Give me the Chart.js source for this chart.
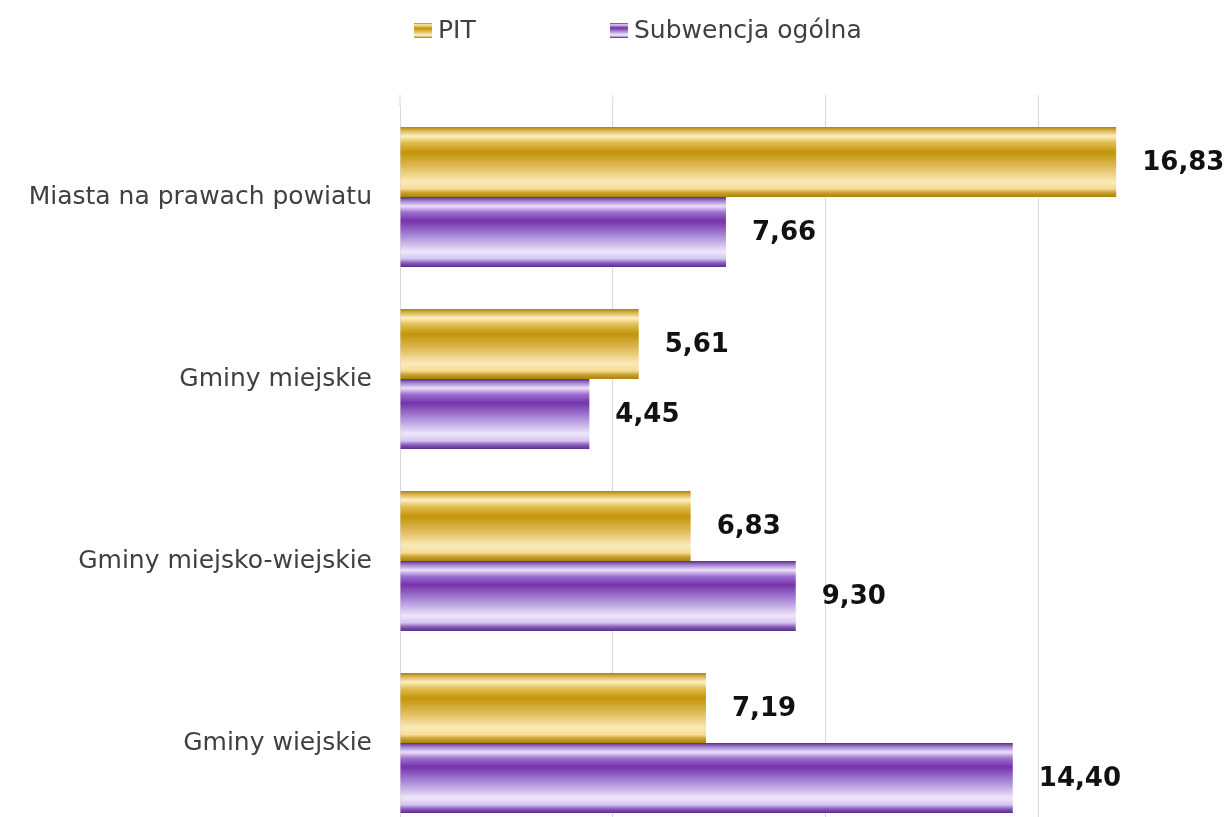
<!DOCTYPE html>
<html><head><meta charset="utf-8">
<script src="https://cdn.jsdelivr.net/npm/chart.js@4/dist/chart.umd.min.js"></script>
<style>html,body{margin:0;padding:0;background:#fff;overflow:hidden;height:817px}#wrap{width:1226px;height:840px;position:relative}</style>
</head><body><div id="wrap"><canvas id="c"></canvas></div>
<script>
const categories = ['Miasta na prawach powiatu', 'Gminy miejskie', 'Gminy miejsko-wiejskie', 'Gminy wiejskie'];
const seriesNames = ['PIT', 'Subwencja ogólna'];
const pitValues = [16.83, 5.61, 6.83, 7.19];
const subwencjaValues = [7.66, 4.45, 9.30, 14.40];
const gridValues = [0, 5, 10, 15];

const CAT_PCT = 0.77;
const goldStops = [[0,'#a8820c'],[0.05,'#d8b24a'],[0.13,'#fdf0c4'],[0.22,'#e2bf55'],[0.36,'#c39408'],[0.55,'#dcb752'],[0.78,'#fbe9b6'],[0.88,'#f6dc98'],[0.94,'#c9a02c'],[1,'#a8820c']];
const purpleStops = [[0,'#5a2a8c'],[0.05,'#9d7bc8'],[0.13,'#ece0fb'],[0.22,'#9c6fd0'],[0.34,'#7433aa'],[0.55,'#a888d6'],[0.78,'#eee6fb'],[0.88,'#d6c6f0'],[0.94,'#8a5cc0'],[1,'#5a2a8c']];

function makeGrad(c, top, h, stops){
  const g = c.createLinearGradient(0, top, 0, top + h);
  stops.forEach(s => g.addColorStop(s[0], s[1]));
  return g;
}
function barGradient(ctx, stops){
  const chart = ctx.chart;
  const y = chart.scales && chart.scales.y;
  if (ctx.type !== 'data' || !y || !isFinite(y.top) || !isFinite(y.bottom) || y.bottom <= y.top) return stops[4][1];
  const center = y.getPixelForValue(ctx.dataIndex);
  const catH = (y.bottom - y.top) / categories.length;
  const bw = catH * CAT_PCT / 2;
  const top = ctx.datasetIndex === 0 ? center - bw : center;
  return makeGrad(chart.ctx, top, bw, stops);
}

const valueLabels = {
  id: 'valueLabels',
  afterDatasetsDraw(chart){
    const c = chart.ctx;
    c.save();
    c.font = 'bold 26px "DejaVu Sans"';
    c.fillStyle = '#111111';
    c.textAlign = 'left';
    c.textBaseline = 'middle';
    chart.data.datasets.forEach((ds, di) => {
      const meta = chart.getDatasetMeta(di);
      meta.data.forEach((el, i) => {
        const v = ds.data[i];
        c.fillText(v.toFixed(2).replace('.', ','), el.x + 26, el.y + 1);
      });
    });
    c.restore();
  }
};

const customLegend = {
  id: 'customLegend',
  afterDraw(chart){
    const c = chart.ctx;
    c.save();
    c.font = '25px "DejaVu Sans"';
    c.textBaseline = 'middle';
    const items = [{x: 414, stops: goldStops, text: seriesNames[0]}, {x: 610, stops: purpleStops, text: seriesNames[1]}];
    items.forEach(it => {
      c.fillStyle = makeGrad(c, 23, 15, it.stops);
      c.fillRect(it.x, 23, 18, 15);
      c.fillStyle = '#404040';
      c.fillText(it.text, it.x + 24, 31);
    });
    c.restore();
  }
};

const gridExtend = {
  id: 'gridExtend',
  beforeDatasetsDraw(chart){
    const c = chart.ctx, x = chart.scales.x, a = chart.chartArea;
    c.save();
    c.strokeStyle = '#d9d9d9';
    c.lineWidth = 1;
    gridValues.forEach(v => {
      const px = x.getPixelForValue(v);
      c.beginPath(); c.moveTo(px, 95); c.lineTo(px, a.top); c.stroke();
    });
    c.restore();
  }
};

new Chart(document.getElementById('c'), {
  type: 'bar',
  data: {
    labels: categories,
    datasets: [
      {label: seriesNames[0], data: pitValues, backgroundColor: ctx => barGradient(ctx, goldStops), borderWidth: 0, categoryPercentage: CAT_PCT, barPercentage: 1.0},
      {label: seriesNames[1], data: subwencjaValues, backgroundColor: ctx => barGradient(ctx, purpleStops), borderWidth: 0, categoryPercentage: CAT_PCT, barPercentage: 1.0}
    ]
  },
  options: {
    indexAxis: 'y',
    responsive: true,
    maintainAspectRatio: false,
    devicePixelRatio: 1,
    animation: false,
    layout: {padding: {top: 106, bottom: 6, right: 60, left: 0}},
    plugins: {legend: {display: false}, tooltip: {enabled: false}},
    scales: {
      x: {
        min: 0, max: 18,
        ticks: {display: false, stepSize: 5},
        afterBuildTicks: s => { s.ticks = gridValues.map(v => ({value: v})); },
        grid: {color: '#d9d9d9', lineWidth: 1, drawTicks: false},
        border: {display: false}
      },
      y: {
        type: 'category',
        ticks: {font: {family: 'DejaVu Sans', size: 25}, color: '#404040', padding: 28},
        grid: {display: false, drawTicks: false},
        border: {display: false},
        afterFit: s => { s.width = 400; s.paddingTop = 0; s.paddingBottom = 0; }
      }
    }
  },
  plugins: [gridExtend, valueLabels, customLegend]
});
</script></body></html>
